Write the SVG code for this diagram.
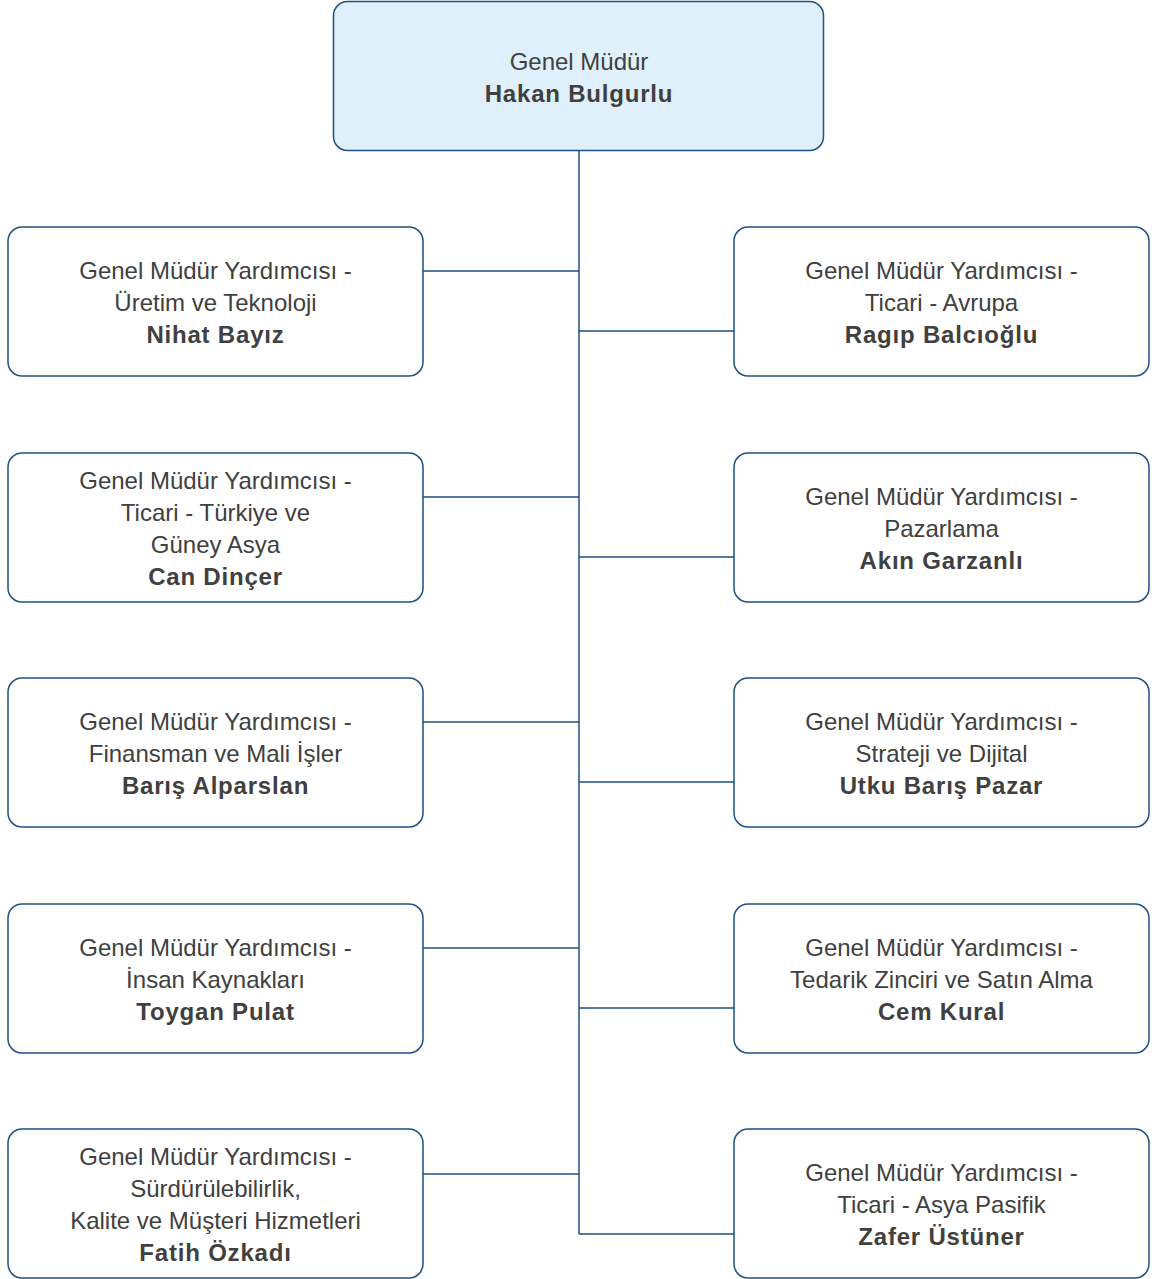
<svg xmlns="http://www.w3.org/2000/svg" width="1156" height="1279" viewBox="0 0 1156 1279">
<style>
.box{fill:#ffffff;stroke:#1d5285;stroke-width:1.5}
.top{fill:#dff0fb;stroke:#1d5285;stroke-width:1.5}
.ln{stroke:#1d5285;stroke-width:1.5;fill:none}
text{font-family:"Liberation Sans",Arial,sans-serif;font-size:24px;fill:#404040;text-anchor:middle}
.b{font-weight:bold;letter-spacing:0.8px}
</style>
<rect width="1156" height="1279" fill="#ffffff"/>
<g id="connectors">
<path class="ln" d="M579 151V1234"/>
<path class="ln" d="M423 271H579M423 497H579M423 722H579M423 948H579M423 1174H579"/>
<path class="ln" d="M579 331H734M579 557H734M579 782H734M579 1008H734M579 1234H734"/>
</g>
<g id="gm">
<rect class="top" x="333.5" y="1.5" width="490" height="149" rx="14"/>
<text x="579" y="70">Genel Müdür</text>
<text class="b" x="579" y="102">Hakan Bulgurlu</text>
</g>
<g id="n1">
<rect class="box" x="8" y="227" width="415" height="149" rx="14"/>
<text x="215.5" y="279">Genel Müdür Yardımcısı -</text>
<text x="215.5" y="311">Üretim ve Teknoloji</text>
<text class="b" x="215.5" y="343">Nihat Bayız</text>
</g>
<g id="n2">
<rect class="box" x="8" y="453" width="415" height="149" rx="14"/>
<text x="215.5" y="489">Genel Müdür Yardımcısı -</text>
<text x="215.5" y="521">Ticari - Türkiye ve</text>
<text x="215.5" y="553">Güney Asya</text>
<text class="b" x="215.5" y="585">Can Dinçer</text>
</g>
<g id="n3">
<rect class="box" x="8" y="678" width="415" height="149" rx="14"/>
<text x="215.5" y="730">Genel Müdür Yardımcısı -</text>
<text x="215.5" y="762">Finansman ve Mali İşler</text>
<text class="b" x="215.5" y="794">Barış Alparslan</text>
</g>
<g id="n4">
<rect class="box" x="8" y="904" width="415" height="149" rx="14"/>
<text x="215.5" y="956">Genel Müdür Yardımcısı -</text>
<text x="215.5" y="988">İnsan Kaynakları</text>
<text class="b" x="215.5" y="1020">Toygan Pulat</text>
</g>
<g id="n5">
<rect class="box" x="8" y="1129" width="415" height="149" rx="14"/>
<text x="215.5" y="1165">Genel Müdür Yardımcısı -</text>
<text x="215.5" y="1197">Sürdürülebilirlik,</text>
<text x="215.5" y="1229">Kalite ve Müşteri Hizmetleri</text>
<text class="b" x="215.5" y="1261">Fatih Özkadı</text>
</g>
<g id="n6">
<rect class="box" x="734" y="227" width="415" height="149" rx="14"/>
<text x="941.5" y="279">Genel Müdür Yardımcısı -</text>
<text x="941.5" y="311">Ticari - Avrupa</text>
<text class="b" x="941.5" y="343">Ragıp Balcıoğlu</text>
</g>
<g id="n7">
<rect class="box" x="734" y="453" width="415" height="149" rx="14"/>
<text x="941.5" y="505">Genel Müdür Yardımcısı -</text>
<text x="941.5" y="537">Pazarlama</text>
<text class="b" x="941.5" y="569">Akın Garzanlı</text>
</g>
<g id="n8">
<rect class="box" x="734" y="678" width="415" height="149" rx="14"/>
<text x="941.5" y="730">Genel Müdür Yardımcısı -</text>
<text x="941.5" y="762">Strateji ve Dijital</text>
<text class="b" x="941.5" y="794">Utku Barış Pazar</text>
</g>
<g id="n9">
<rect class="box" x="734" y="904" width="415" height="149" rx="14"/>
<text x="941.5" y="956">Genel Müdür Yardımcısı -</text>
<text x="941.5" y="988">Tedarik Zinciri ve Satın Alma</text>
<text class="b" x="941.5" y="1020">Cem Kural</text>
</g>
<g id="n10">
<rect class="box" x="734" y="1129" width="415" height="149" rx="14"/>
<text x="941.5" y="1181">Genel Müdür Yardımcısı -</text>
<text x="941.5" y="1213">Ticari - Asya Pasifik</text>
<text class="b" x="941.5" y="1245">Zafer Üstüner</text>
</g>
</svg>
